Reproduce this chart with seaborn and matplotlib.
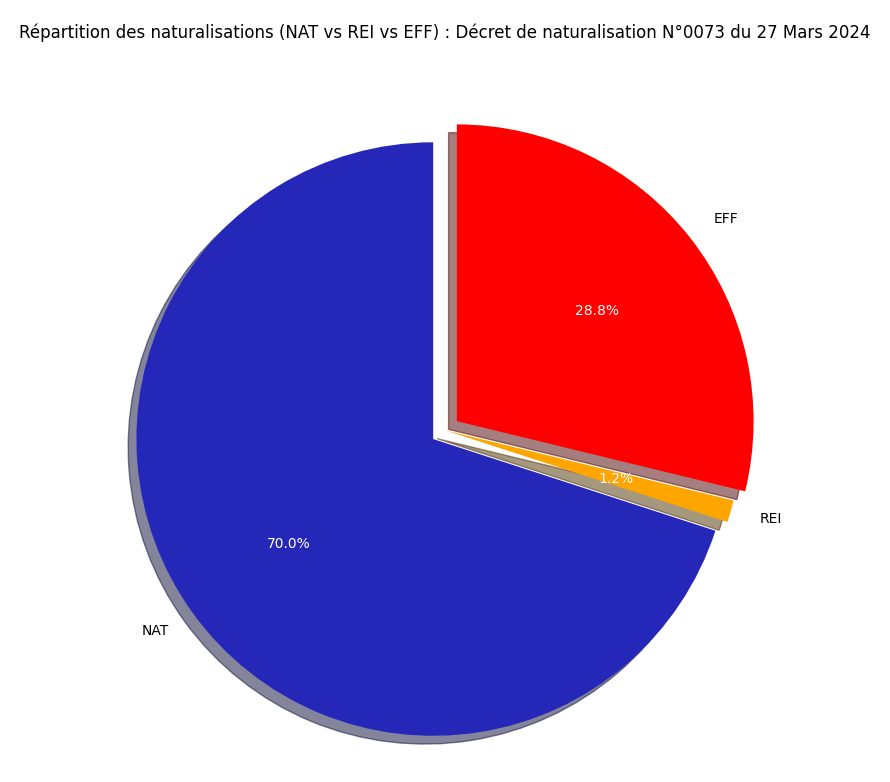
import matplotlib
matplotlib.use("Agg")
import matplotlib.pyplot as plt
import seaborn as sns

labels = ["NAT", "REI", "EFF"]
values = [70.0, 1.2, 28.8]
colors = ["#2427b8", "orange", "red"]
explode = [0.05, 0, 0.05]

fig, ax = plt.subplots(figsize=(8.9, 7.82), dpi=100)
wedges, texts, autotexts = ax.pie(values, labels=labels, colors=colors, explode=explode,
                                  autopct="%1.1f%%", startangle=90, shadow=True)
for t in autotexts:
    t.set_color("white")
ax.set_title("Répartition des naturalisations (NAT vs REI vs EFF) : Décret de naturalisation N°0073 du 27 Mars 2024", pad=40)
ax.axis("equal")
plt.subplots_adjust(left=0.02, right=0.98, top=0.88, bottom=0.02)
fig.savefig("out.png")
